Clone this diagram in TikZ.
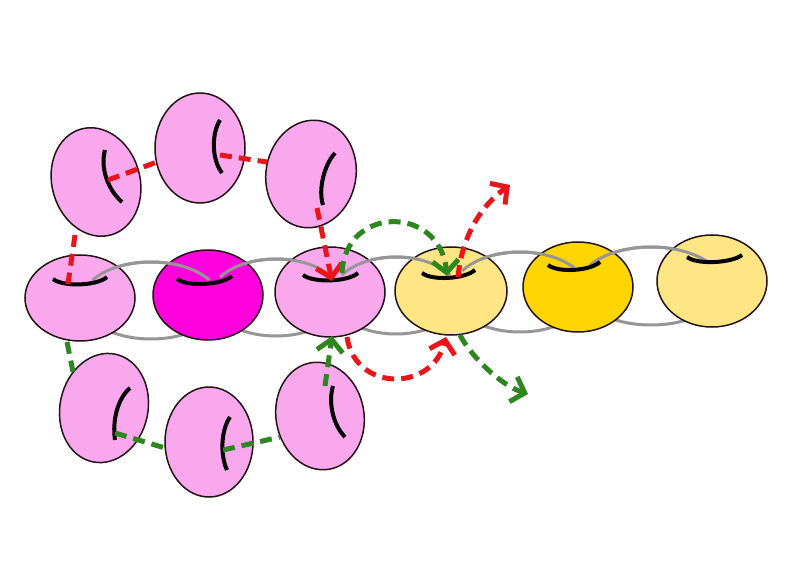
\documentclass[tikz,border=0pt]{standalone}
\usetikzlibrary{shapes.geometric,arrows.meta}
\definecolor{pinkf}{RGB}{250,168,238}
\definecolor{magf}{RGB}{255,0,220}
\definecolor{lyel}{RGB}{255,230,133}
\definecolor{goldf}{RGB}{255,213,0}
\definecolor{redd}{RGB}{232,22,26}
\definecolor{grn}{RGB}{45,135,30}
\definecolor{linkg}{RGB}{150,150,150}
\definecolor{outl}{RGB}{35,20,20}
\tikzset{
  bead/.style={ellipse, draw=outl, line width=1.5pt, inner sep=0pt},
  linkline/.style={draw=linkg, line width=3pt},
  markarc/.style={draw=black, line width=4pt},
  rdash/.style={draw=redd, line width=5pt, dash pattern=on 12pt off 7pt},
  gdash/.style={draw=grn, line width=5pt, dash pattern=on 12pt off 7pt},
  tipend/.style={-{Straight Barb[length=12pt,width=26pt]}},
}
\begin{document}
\begin{tikzpicture}[x=1pt,y=-1pt]
\useasboundingbox[fill=white] (0,0) rectangle (795,572);
% chain links (hidden parts)
\draw[linkline] (151,300.5) ellipse [x radius=69, y radius=38.5];
\draw[linkline] (276,297.5) ellipse [x radius=66, y radius=38.5];
\draw[linkline] (396,295.5) ellipse [x radius=64, y radius=38.5];
\draw[linkline] (520,292) ellipse [x radius=68, y radius=40];
\draw[linkline] (651,286) ellipse [x radius=72, y radius=39];
% beads in the row
\node[bead, fill=pinkf, minimum width=110pt, minimum height=86pt] (e1) at (80,298) {};
\node[bead, fill=magf,  minimum width=110pt, minimum height=90pt] (e2) at (208,295) {};
\node[bead, fill=pinkf, minimum width=110pt, minimum height=90pt] (e3) at (330,292) {};
\node[bead, fill=lyel,  minimum width=112pt, minimum height=88pt] (e4) at (451,291) {};
\node[bead, fill=goldf, minimum width=110pt, minimum height=90pt] (e5) at (578,287) {};
\node[bead, fill=lyel,  minimum width=110pt, minimum height=92pt] (e6) at (712,281) {};
% beads of the upper loop
\node[bead, fill=pinkf, minimum width=88pt, minimum height=110pt, rotate=16] (t1) at (96,182) {};
\node[bead, fill=pinkf, minimum width=90pt, minimum height=110pt] (t2) at (200,148) {};
\node[bead, fill=pinkf, minimum width=90pt, minimum height=108pt, rotate=-10] (t3) at (311,174) {};
% beads of the lower loop
\node[bead, fill=pinkf, minimum width=88pt, minimum height=110pt, rotate=-12] (b1) at (104,408) {};
\node[bead, fill=pinkf, minimum width=88pt, minimum height=110pt] (b2) at (209,442) {};
\node[bead, fill=pinkf, minimum width=88pt, minimum height=108pt, rotate=10] (b3) at (320,416) {};
% chain links (visible upper parts)
\draw[linkline] (151,300.5) ++(212:69 and 38.5) arc[start angle=212, end angle=328, x radius=69, y radius=38.5];
\draw[linkline] (276,297.5) ++(212:66 and 38.5) arc[start angle=212, end angle=328, x radius=66, y radius=38.5];
\draw[linkline] (396,295.5) ++(212:64 and 38.5) arc[start angle=212, end angle=328, x radius=64, y radius=38.5];
\draw[linkline] (520,292) ++(212:68 and 40) arc[start angle=212, end angle=323, x radius=68, y radius=40];
\draw[linkline] (651,286) ++(212:72 and 39) arc[start angle=212, end angle=320, x radius=72, y radius=39];
% marks
\draw[markarc] (53,279) .. controls (63,287) and (97,286) .. (107,277);
\draw[markarc] (177,279) .. controls (187,287) and (222,285) .. (232,276);
\draw[markarc] (303,275) .. controls (313,283) and (348,282) .. (358,273);
\draw[markarc] (422,273) .. controls (432,281) and (465,279) .. (475,270);
\draw[markarc] (548,265) .. controls (558,273) and (590,271) .. (600,262);
\draw[markarc] (687,257) .. controls (697,265) and (732,263) .. (742,255);
\draw[markarc] (105,150) .. controls (100,168) and (108,190) .. (122,202);
\draw[markarc] (220,120) .. controls (211,135) and (212,160) .. (222,173);
\draw[markarc] (335,153) .. controls (324,165) and (318,190) .. (323,205);
\draw[markarc] (130,388) .. controls (118,398) and (112,420) .. (115,440);
\draw[markarc] (230,417) .. controls (221,430) and (220,455) .. (227,470);
\draw[markarc] (333,386) .. controls (328,402) and (333,425) .. (345,437);
% connector end points
\coordinate (r1s) at (75,235);  \coordinate (r1e) at (68,284);
\coordinate (r2s) at (108,180); \coordinate (r2e) at (157,162);
\coordinate (r3s) at (220,155); \coordinate (r3e) at (267,162);
\coordinate (r4s) at (317,208); \coordinate (r4e) at (332,281);
\coordinate (r5s) at (347,337); \coordinate (r5e) at (446,337);
\coordinate (r6s) at (458,277); \coordinate (r6e) at (510,185);
\coordinate (g1s) at (67,342);  \coordinate (g1e) at (73,372);
\coordinate (g2s) at (115,433); \coordinate (g2e) at (165,448);
\coordinate (g3s) at (223,450); \coordinate (g3e) at (280,437);
\coordinate (g4s) at (325,386); \coordinate (g4e) at (332,336);
\coordinate (g5s) at (342,273); \coordinate (g5e) at (447,276);
\coordinate (g6s) at (460,335); \coordinate (g6e) at (528,394);
% red paths
\draw[rdash] (r1s) -- (r1e);
\draw[rdash] (r2s) -- (r2e);
\draw[rdash] (r3s) -- (r3e);
\draw[rdash, tipend] (r4s) -- (r4e);
\draw[rdash, tipend] (r5s) .. controls (355,392) and (432,392) .. (r5e);
\draw[rdash, tipend] (r6s) .. controls (462,235) and (482,205) .. (r6e);
% green paths
\draw[gdash] (g1s) -- (g1e);
\draw[gdash] (g2s) -- (g2e);
\draw[gdash] (g3s) -- (g3e);
\draw[gdash, tipend] (g4s) -- (g4e);
\draw[gdash, tipend] (g5s) .. controls (345,205) and (440,205) .. (g5e);
\draw[gdash, tipend] (g6s) .. controls (470,355) and (500,385) .. (g6e);
\end{tikzpicture}
\end{document}
